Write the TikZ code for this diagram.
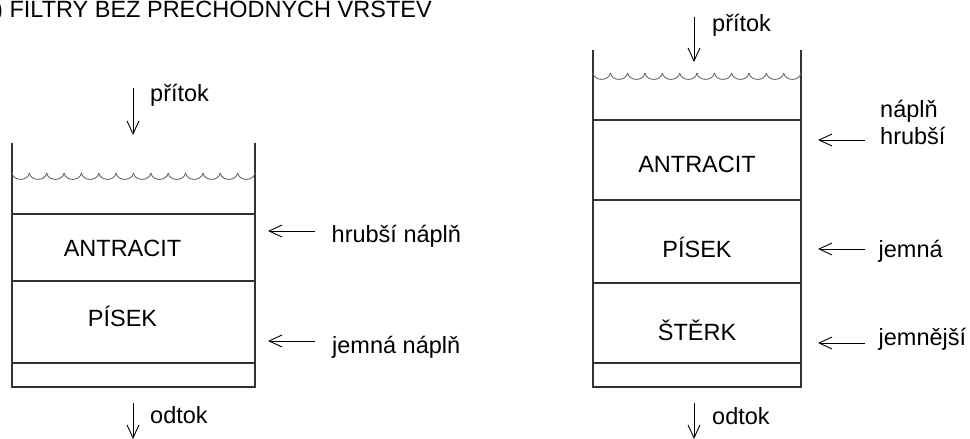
\documentclass[tikz,border=0pt]{standalone}
\usepackage{fontspec}
\setmainfont{Liberation Sans}
\usetikzlibrary{arrows.meta}

\tikzset{
  wall/.style={line width=1.1pt, black!80},
  wave/.style={line width=0.9pt, black!60},
  pointer/.style={line width=0.9pt, -{Straight Barb[length=13pt,width=12pt]}},
  lbl/.style={font=\fontsize{23.5pt}{28pt}\selectfont, inner sep=0pt},
}

\begin{document}
\begin{tikzpicture}[x=1pt, y=-1pt]
    \useasboundingbox (0,0) rectangle (970,439);
    \clip (0,0) rectangle (970,439);

    % nadpis
    \node[lbl, anchor=base west] (title) at (-5,17) {) FILTRY BEZ PŘECHODNÝCH VRSTEV};

    % levý filtr
    \draw[wall] (12,143) -- (12,387) -- (255,387) -- (255,143);
    \foreach \y in {214,281,363}
        \draw[wall] (12,\y) -- (255,\y);
    \foreach \i in {0,...,13}
        \draw[wave] ({12+17.357*\i},173) .. controls +(1.5,8.5) and +(-1.5,8.5) .. ({29.357+17.357*\i},173);
    \node[lbl, anchor=base] (antL) at (122.5,256.7) {ANTRACIT};
    \node[lbl, anchor=base] (pisL) at (122.5,326) {PÍSEK};

    \node[lbl, anchor=base west] (pritokL) at (150,101.5) {přítok};
    \coordinate (pritokLa) at (133,88);
    \coordinate (pritokLb) at (133,135);
    \draw[pointer] (pritokLa) -- (pritokLb);

    \node[lbl, anchor=base west] (odtokL) at (150,423) {odtok};
    \coordinate (odtokLa) at (133,403);
    \coordinate (odtokLb) at (133,439);
    \draw[pointer] (odtokLa) -- (odtokLb);

    \node[lbl, anchor=base west] (hrubL) at (331.5,242.5) {hrubší náplň};
    \coordinate (hrubLa) at (315,231);
    \coordinate (hrubLb) at (268,231);
    \draw[pointer] (hrubLa) -- (hrubLb);

    \node[lbl, anchor=base west] (jemL) at (332,353) {jemná náplň};
    \coordinate (jemLa) at (315,341);
    \coordinate (jemLb) at (268,341);
    \draw[pointer] (jemLa) -- (jemLb);

    % pravý filtr
    \draw[wall] (593,50) -- (593,387) -- (801,387) -- (801,50);
    \foreach \y in {120,200,283,363}
        \draw[wall] (593,\y) -- (801,\y);
    \foreach \i in {0,...,11}
        \draw[wave] ({593+17.333*\i},73) .. controls +(1.5,8.5) and +(-1.5,8.5) .. ({610.333+17.333*\i},73);
    \node[lbl, anchor=base] (antR) at (697,172.7) {ANTRACIT};
    \node[lbl, anchor=base] (pisR) at (697,257) {PÍSEK};
    \node[lbl, anchor=base] (sterkR) at (697,340.7) {ŠTĚRK};

    \node[lbl, anchor=base west] (pritokR) at (712,31.7) {přítok};
    \coordinate (pritokRa) at (694,17);
    \coordinate (pritokRb) at (694,62);
    \draw[pointer] (pritokRa) -- (pritokRb);

    \node[lbl, anchor=base west] (odtokR) at (712,424) {odtok};
    \coordinate (odtokRa) at (694,403);
    \coordinate (odtokRb) at (694,439);
    \draw[pointer] (odtokRa) -- (odtokRb);

    \node[lbl, anchor=base west] (naplR) at (880,117) {náplň};
    \node[lbl, anchor=base west] (hrubR) at (880,144) {hrubší};
    \coordinate (hrubRa) at (865,140);
    \coordinate (hrubRb) at (818,140);
    \draw[pointer] (hrubRa) -- (hrubRb);

    \node[lbl, anchor=base west] (jemR) at (878.5,257) {jemná};
    \coordinate (jemRa) at (865,249);
    \coordinate (jemRb) at (818,249);
    \draw[pointer] (jemRa) -- (jemRb);

    \node[lbl, anchor=base west] (jemnR) at (878.5,345) {jemnější};
    \coordinate (jemnRa) at (865,343);
    \coordinate (jemnRb) at (818,343);
    \draw[pointer] (jemnRa) -- (jemnRb);
\end{tikzpicture}
\end{document}
